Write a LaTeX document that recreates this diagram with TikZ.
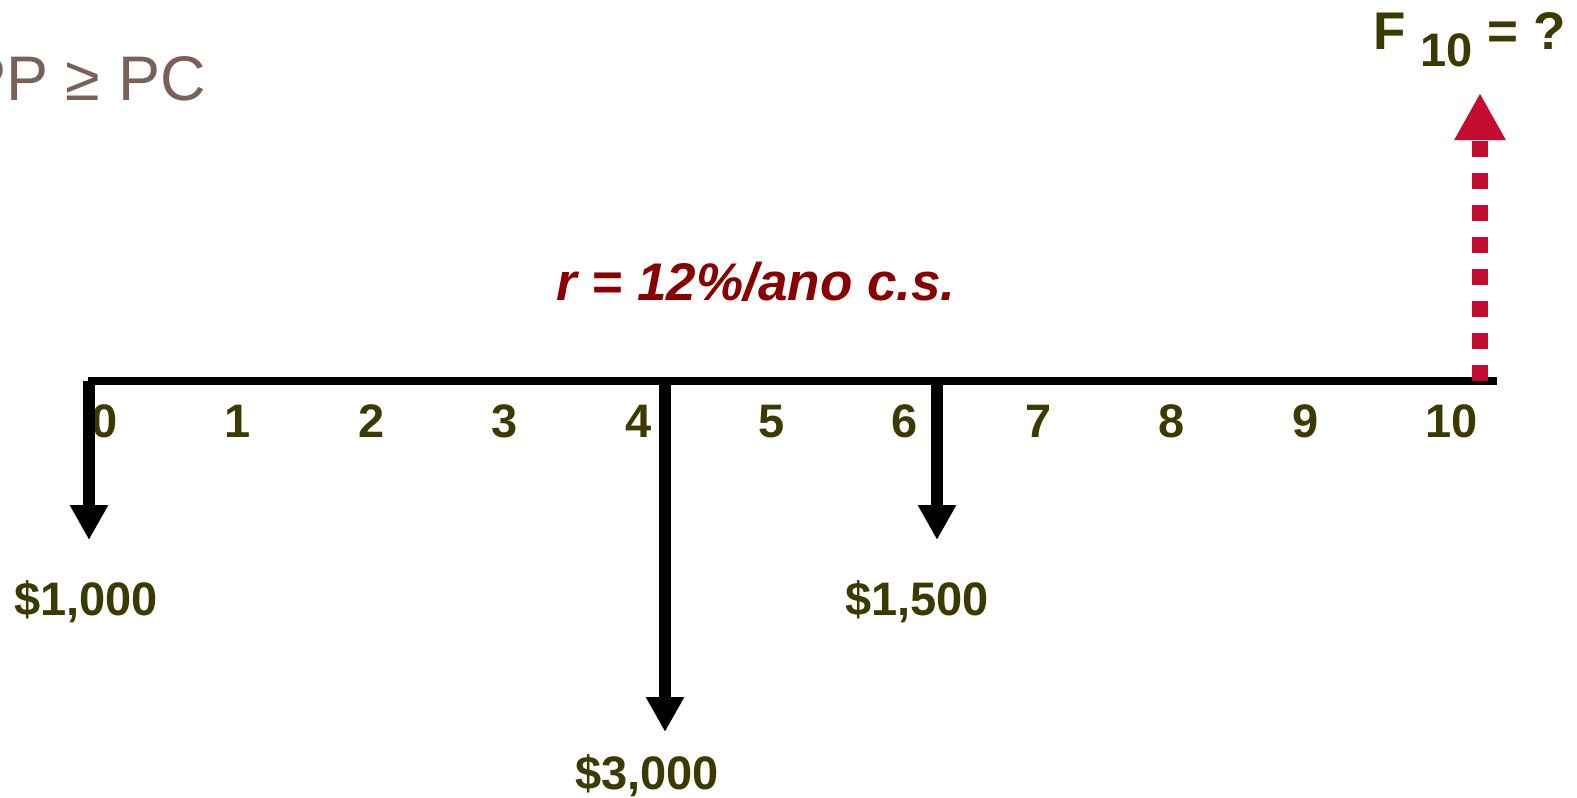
\documentclass[tikz,border=0pt]{standalone}
\usepackage{fontspec}
\setmainfont{Liberation Sans}
\usetikzlibrary{arrows.meta}
\definecolor{olv}{HTML}{3B3A00}
\definecolor{rate}{HTML}{880000}
\definecolor{fut}{HTML}{C40C30}
\definecolor{note}{HTML}{7B6058}
\tikzset{
  axisline/.style={line width=4pt},
  cash/.style={line width=6pt,-{Triangle[length=17.5pt,width=18pt]}},
  fv/.style={draw=fut,line width=8pt,dash pattern=on 8pt off 8pt,-{Triangle[length=23.5pt,width=24pt]}},
  per/.style={font=\fontsize{23.5}{26}\selectfont\bfseries,text=olv,inner sep=0pt,anchor=base west},
  amt/.style={per,anchor=base},
}
\begin{document}
\begin{tikzpicture}[x=0.5pt,y=-0.5pt]
\useasboundingbox (0,0) rectangle (1577,797);
% time line
\coordinate (a0) at (88,381);
\coordinate (a1) at (1497,381);
\draw[axisline] (a0) -- (a1);
\foreach \i in {0,...,10}
  \node[per] (t\i) at (91+133.4*\i,437) {\i};
% cash flows out
\coordinate (p0) at (89,381);   \coordinate (e0) at (89,540);
\coordinate (p4) at (665,381);  \coordinate (e4) at (665,732);
\coordinate (p6) at (937,381);  \coordinate (e6) at (937,540);
\draw[cash] (p0) -- (e0);
\draw[cash] (p4) -- (e4);
\draw[cash] (p6) -- (e6);
\node[amt] (m0) at (86,615) {\$1,000};
\node[amt] (m4) at (647,789) {\$3,000};
\node[amt] (m6) at (917,615) {\$1,500};
% future value
\coordinate (p10) at (1480,381); \coordinate (e10) at (1480,93);
\draw[fv] (p10) -- (e10);
\node[inner sep=0pt,anchor=base west,text=olv,font=\fontsize{26.5}{30}\selectfont\bfseries] (fut) at (1373,50)
  {F \raisebox{-8.5pt}{\fontsize{23.5}{26}\selectfont 10} = ?};
% rate and note
\node[inner sep=0pt,anchor=base,text=rate,font=\fontsize{26.5}{28}\selectfont\bfseries\itshape] (r) at (756,300) {r = 12\%/ano c.s.};
\node[inner sep=0pt,anchor=base east,text=note,font=\fontsize{31.5}{34}\selectfont] (pp) at (206,100) {PP ≥ PC};
\end{tikzpicture}
\end{document}
